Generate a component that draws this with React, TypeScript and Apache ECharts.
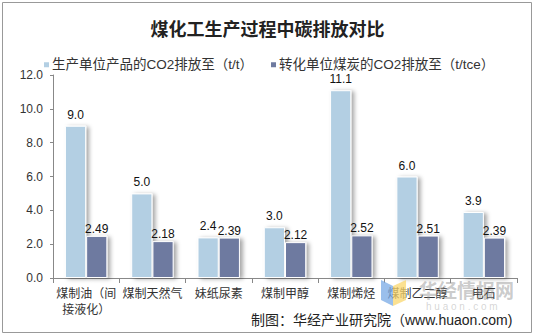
import React, { useEffect, useRef } from "react";
import * as echarts from "echarts";

const categories = ["煤制油（间接液化）", "煤制天然气", "妹纸尿素", "煤制甲醇", "煤制烯烃", "煤制乙二醇", "电石"];
const perProduct = [9.0, 5.0, 2.4, 3.0, 11.1, 6.0, 3.9];
const perCoal = [2.49, 2.18, 2.39, 2.12, 2.52, 2.51, 2.39];
const seriesNames = ["生产单位产品的CO2排放至（t/t）", "转化单位煤炭的CO2排放至（t/tce）"];
const yTicks = { min: 0, max: 12, interval: 2 };

const FONT = "'Liberation Sans', Arial, 'Noto Sans CJK SC', sans-serif";

export default function App() {
  const ref = useRef<HTMLDivElement>(null);
  useEffect(() => {
    if (!ref.current) return;
    const chart = echarts.init(ref.current, null, { renderer: "svg" });
    const shadow = {
      shadowColor: "rgba(0,0,0,0.35)",
      shadowBlur: 4,
      shadowOffsetX: 3,
      shadowOffsetY: 1,
    };
    chart.setOption({
      animation: false,
      backgroundColor: "#ffffff",
      textStyle: { fontFamily: FONT },
      title: {
        text: "煤化工生产过程中碳排放对比",
        left: "center",
        top: 14,
        textStyle: {
          fontFamily: "'Noto Sans CJK SC', sans-serif",
          fontSize: 18,
          fontWeight: "bold",
          color: "#222",
        },
      },
      legend: {
        top: 53,
        left: 37,
        itemWidth: 7,
        itemHeight: 7,
        itemGap: 16,
        icon: "rect",
        textStyle: { fontSize: 13.5, color: "#333", fontFamily: FONT, padding: [0, 0, 0, -3] },
        data: seriesNames,
      },
      grid: { left: 53, right: 18, top: 75, bottom: 58 },
      xAxis: {
        type: "category",
        data: categories,
        axisLine: { lineStyle: { color: "#888" } },
        axisTick: { show: true, length: 5, lineStyle: { color: "#888" } },
        axisLabel: {
          interval: 0,
          fontSize: 12,
          color: "#333",
          lineHeight: 16,
          margin: 8,
          formatter: (v: string) => (v.length > 6 ? v.slice(0, 5) + "\n" + v.slice(5) : v),
        },
      },
      yAxis: {
        type: "value",
        min: yTicks.min,
        max: yTicks.max,
        interval: yTicks.interval,
        axisLine: { show: true, lineStyle: { color: "#888" } },
        axisTick: { show: true, length: 3, lineStyle: { color: "#888" } },
        splitLine: { show: false },
        axisLabel: {
          fontSize: 12,
          color: "#333",
          margin: 10,
          formatter: (v: number) => v.toFixed(1),
        },
      },
      series: [
        {
          name: seriesNames[0],
          type: "bar",
          data: perProduct,
          barGap: "0%",
          barCategoryGap: "36%",
          itemStyle: { color: "#B3CFE3", borderColor: "#fff", borderWidth: 1, ...shadow },
          label: {
            show: true,
            position: "top",
            distance: 5,
            fontSize: 12,
            color: "#111",
            formatter: (p: any) => Number(p.value).toFixed(1),
          },
        },
        {
          name: seriesNames[1],
          type: "bar",
          data: perCoal,
          itemStyle: { color: "#6E7AA0", borderColor: "#fff", borderWidth: 1, ...shadow },
          label: {
            show: true,
            position: "top",
            distance: 1,
            fontSize: 12,
            color: "#111",
            formatter: (p: any) => Number(p.value).toFixed(2),
          },
        },
      ],
      graphic: [
        {
          type: "rect",
          shape: { x: 2.5, y: 2.5, width: 529, height: 330 },
          style: { fill: "none", stroke: "#999", lineWidth: 1 },
          silent: true,
        },
        {
          type: "polygon",
          shape: { points: [[381, 280], [393, 286], [393, 306], [381, 300]] },
          style: { fill: "rgba(120,170,230,0.75)" },
          z: 100,
        },
        {
          type: "polygon",
          shape: { points: [[393, 286], [406, 280], [406, 300], [393, 306]] },
          style: { fill: "rgba(250,215,110,0.75)" },
          z: 100,
        },
        {
          type: "text",
          left: 419,
          top: 280,
          style: {
            text: "华经情报网",
            fontSize: 19,
            fontWeight: "bold",
            fill: "rgba(140,140,140,0.45)",
            fontFamily: "'Noto Sans CJK SC', sans-serif",
          },
          z: 100,
        },
        {
          type: "text",
          left: 426,
          top: 301,
          style: {
            text: "h u a o n . c o m",
            fontSize: 10,
            fill: "rgba(150,150,150,0.4)",
            fontFamily: FONT,
          },
          z: 100,
        },
        {
          type: "text",
          left: 251,
          top: 313,
          style: {
            text: "制图：华经产业研究院（www.huaon.com)",
            fontSize: 14,
            fill: "#222",
            fontFamily: FONT,
          },
          z: 101,
        },
      ],
    });
    return () => chart.dispose();
  }, []);
  return (
    <div
      ref={ref}
      style={{ position: "fixed", left: 0, top: 0, width: 535, height: 336 }}
    />
  );
}
